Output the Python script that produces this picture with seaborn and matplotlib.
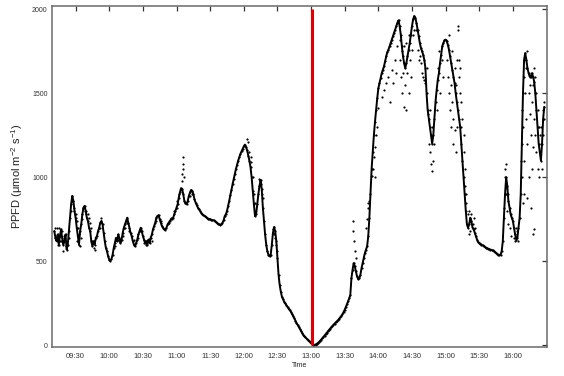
import pandas as pd
import matplotlib
matplotlib.use("Agg")
import matplotlib.pyplot as plt
import matplotlib.dates as mdates
import seaborn as sns

# =========================
# Data (PPFD, one value per minute)
# =========================
trace_start = "09:11"
trace_ppfd = [
    680, 640, 620, 660, 600, 650, 690, 640, 600,                 # 09:11
    620, 660, 570, 600, 680, 760, 840, 890, 860, 800,            # 09:20
    760, 700, 650, 600, 680, 720, 780, 820, 830, 800,            # 09:30
    760, 740, 700, 680, 620, 590, 620, 600, 640, 650,            # 09:40
    680, 700, 730, 740, 720, 670, 620, 580, 560, 530,            # 09:50
    510, 505, 515, 540, 580, 610, 640, 620, 660, 640,            # 10:00
    610, 630, 670, 700, 720, 740, 760, 730, 700, 670,            # 10:10
    650, 620, 600, 590, 610, 630, 660, 680, 700, 680,            # 10:20
    650, 630, 610, 620, 600, 630, 610, 640, 660, 690,            # 10:30
    710, 730, 760, 770, 775, 750, 730, 710, 700, 690,            # 10:40
    688, 700, 720, 730, 740, 750, 755, 760, 780, 800,            # 10:50
    820, 840, 880, 910, 935, 930, 900, 860, 845, 840,            # 11:00
    860, 890, 910, 925, 920, 900, 870, 850, 835, 820,            # 11:10
    810, 800, 790, 780, 775, 770, 765, 760, 755, 752,            # 11:20
    750, 748, 745, 745, 740, 735, 730, 725, 720, 718,            # 11:30
    720, 730, 745, 770, 780, 800, 830, 860, 895, 925,            # 11:40
    960, 990, 1020, 1050, 1075, 1100, 1120, 1140, 1155, 1170,    # 11:50
    1185, 1195, 1180, 1160, 1130, 1100, 1060, 1000, 920, 840,    # 12:00
    770, 780, 840, 900, 950, 985, 930, 820, 740, 660,            # 12:10
    600, 560, 540, 530, 540, 600, 670, 705, 680, 620,            # 12:20
    520, 420, 360, 320, 290, 275, 260, 250, 238, 228,            # 12:30
    218, 210, 200, 188, 175, 162, 148, 134, 122, 110,            # 12:40
    98, 86, 74, 63, 55, 47, 40, 34, 28, 22,                      # 12:50
    15, 8, 4, 3, 5, 9, 14, 20, 27, 34,                           # 13:00
    42, 50, 58, 66, 75, 84, 92, 100, 108, 116,                   # 13:10
    123, 130, 137, 143, 150, 158, 166, 175, 185, 198,            # 13:20
    212, 228, 245, 262, 280, 300, 400, 450, 490, 470,            # 13:30
    440, 410, 395, 400, 420, 460, 490, 520, 550, 570,            # 13:40
    590, 650, 760, 900, 1050, 1150, 1250, 1330, 1400, 1470,      # 13:50
    1530, 1560, 1590, 1620, 1640, 1660, 1690, 1720, 1745, 1760,  # 14:00
    1780, 1800, 1820, 1840, 1860, 1880, 1900, 1920, 1935, 1900,  # 14:10
    1850, 1780, 1720, 1680, 1650, 1680, 1720, 1760, 1800, 1850,  # 14:20
    1900, 1940, 1960, 1950, 1920, 1880, 1840, 1800, 1770, 1750,  # 14:30
    1730, 1700, 1650, 1500, 1400, 1350, 1300, 1250, 1200, 1250,  # 14:40
    1350, 1450, 1520, 1580, 1620, 1680, 1730, 1780, 1800, 1815,  # 14:50
    1820, 1810, 1790, 1760, 1720, 1680, 1640, 1600, 1560, 1500,  # 15:00
    1450, 1400, 1350, 1300, 1200, 1100, 1000, 900, 800, 720,     # 15:10
    700, 720, 760, 740, 700, 690, 670, 650, 630, 615,            # 15:20
    610, 605, 600, 595, 590, 585, 582, 578, 575, 572,            # 15:30
    570, 568, 565, 560, 555, 550, 545, 540, 538, 540,            # 15:40
    560, 620, 760, 900, 1000, 950, 860, 820, 780, 760,           # 15:50
    740, 700, 660, 630, 640, 700, 760, 900, 1200, 1500,          # 16:00
    1700, 1740, 1700, 1650, 1620, 1600, 1600, 1620, 1600, 1570,  # 16:10
    1500, 1400, 1300, 1200, 1150, 1100, 1200, 1350, 1420,        # 16:20
]

# extra readings scattered off the main trace (cloud flicker)
extra_times = [
    "09:12", "09:14", "09:16", "09:18", "09:20", "09:22", "09:24", "09:26", "09:27",
    "09:36", "09:38", "09:39", "09:45", "09:47", "09:52", "09:53",
    "10:05", "10:08", "10:12", "10:14", "10:16", "10:18", "10:22", "10:26", "10:28",
    "10:31", "10:33", "10:36", "10:38", "10:42", "10:46", "10:55", "10:58",
    "11:00", "11:02", "11:12", "11:14",
    "09:13", "09:15", "09:17", "09:19", "09:21",
    "09:29", "09:30", "09:31", "09:31", "09:32", "09:33", "09:34", "09:35",
    "09:41", "09:42", "09:43", "09:44", "09:46",
    "11:05", "11:05", "11:06", "11:06", "11:06", "11:07",
    "12:03", "12:04", "12:05", "12:06", "12:06", "12:08", "12:09", "12:10",
    "12:14", "12:15", "12:16", "12:17",
    "12:26", "12:27", "12:28", "12:29", "12:30",
    "13:37", "13:37", "13:38", "13:39", "13:40",
    "13:49", "13:50", "13:51", "13:51", "13:52",
    "13:54", "13:55", "13:56", "13:57", "13:57", "13:58", "13:59", "14:00",
    "14:03", "14:05", "14:07", "14:09", "14:10", "14:12", "14:13", "14:15", "14:16", "14:17",
    "14:19", "14:19", "14:20", "14:21", "14:21", "14:22", "14:23", "14:23", "14:24", "14:25",
    "14:25", "14:26", "14:27", "14:27", "14:28", "14:29", "14:30", "14:31", "14:32",
    "14:34", "14:35", "14:36", "14:37", "14:38", "14:39", "14:40", "14:41", "14:42",
    "14:43", "14:44", "14:45", "14:46", "14:46", "14:47", "14:48", "14:48", "14:49", "14:50",
    "14:52", "14:53", "14:54", "14:55", "14:57", "14:58",
    "15:01", "15:02", "15:03", "15:03", "15:04", "15:05", "15:05", "15:06", "15:06", "15:07",
    "15:07", "15:08", "15:08", "15:09", "15:09", "15:10", "15:10",
    "15:11", "15:11", "15:12", "15:12", "15:13", "15:13", "15:14", "15:14", "15:15", "15:16",
    "15:16", "15:17", "15:17", "15:18", "15:18",
    "15:20", "15:21", "15:22", "15:23", "15:24", "15:25", "15:26", "15:21", "15:22",
    "15:52", "15:53", "15:53", "15:54", "15:54", "15:55", "15:56", "15:56", "15:57", "15:58",
    "16:01", "16:02", "16:03", "16:04", "16:05",
    "16:07", "16:08", "16:08", "16:09", "16:09", "16:10", "16:10", "16:11", "16:12", "16:12",
    "16:13", "16:13", "16:14", "16:14", "16:15", "16:15", "16:16", "16:16", "16:17", "16:17",
    "16:18", "16:18", "16:19", "16:19", "16:20", "16:20", "16:21", "16:21", "16:22", "16:22",
    "16:23", "16:23", "16:24", "16:25", "16:25", "16:26", "16:27", "16:27", "16:28", "16:28",
    "16:18", "16:19", "16:10", "16:13",
]
extra_ppfd = [
    700, 600, 620, 680, 650, 600, 640, 800, 860,
    750, 800, 780, 620, 570, 700, 760,
    590, 630, 650, 700, 730, 680, 630, 640, 680,
    610, 600, 640, 620, 740, 740, 760, 800,
    860, 900, 890, 900,
    700, 700, 620, 560, 590,
    820, 780, 740, 620, 700, 660, 590, 640,
    780, 760, 730, 700, 580,
    980, 1020, 1050, 1080, 1120, 1000,
    1230, 1210, 1150, 1120, 1090, 1000, 900, 850,
    990, 960, 900, 880,
    690, 660, 640, 600, 560,
    740, 680, 620, 560, 520,
    700, 750, 820, 850, 860,
    1010, 1050, 1120, 1180, 1000, 1250, 1300, 1410,
    1480, 1520, 1560, 1600, 1450, 1640, 1560, 1700, 1620, 1780,
    1820, 1700, 1600, 1750, 1500, 1620, 1420, 1780, 1550, 1400,
    1800, 1620, 1500, 1850, 1700, 1600, 1760, 1850, 1880,
    1880, 1760, 1700, 1720, 1680, 1620, 1600, 1580, 1560,
    1650, 1380, 1200, 1150, 1400, 1080, 1040, 1300, 1100, 1200,
    1400, 1650, 1750, 1500, 1700, 1600,
    1700, 1600, 1500, 1850, 1400, 1550, 1300, 1450, 1750, 1350,
    1200, 1650, 1280, 1150, 1550, 1700, 1300,
    1900, 1880, 1600, 1700, 1500, 1650, 1450, 1300, 1350, 1250,
    1150, 1050, 950, 900, 850,
    780, 800, 740, 780, 720, 760, 700, 660, 680,
    820, 1000, 1050, 1080, 900, 800, 720, 900, 700, 650,
    640, 620, 700, 680, 620,
    1100, 1400, 1000, 1300, 850, 1600, 1100, 1500, 1350, 1650,
    1200, 1750, 1500, 1000, 1380, 1550, 1250, 820, 1450, 1050,
    1180, 1550, 1350, 1650, 1250, 1600, 1150, 1500, 1400, 1050,
    1300, 1000, 1250, 1200, 1300, 1050, 1250, 1400, 1350, 1450,
    660, 690, 900, 880,
]

event_time = "13:01"
event_top = 2000

x_ticks = ["09:30", "10:00", "10:30", "11:00", "11:30", "12:00", "12:30",
           "13:00", "13:30", "14:00", "14:30", "15:00", "15:30", "16:00"]
y_ticks = [0, 500, 1000, 1500, 2000]

# =========================
# Build frames
# =========================
day = "2000-01-01 "
trace = pd.DataFrame({
    "time": pd.date_range(day + trace_start, periods=len(trace_ppfd), freq="min"),
    "ppfd": trace_ppfd,
})
extra = pd.DataFrame({
    "time": pd.to_datetime([day + t for t in extra_times]),
    "ppfd": extra_ppfd,
})

# =========================
# Plot
# =========================
sns.set_style("white")
plt.rcParams["font.family"] = ["Liberation Sans", "DejaVu Sans"]
plt.rcParams["mathtext.fontset"] = "custom"
plt.rcParams["mathtext.rm"] = "Liberation Sans"
plt.rcParams["mathtext.it"] = "Liberation Sans"

fig = plt.figure(figsize=(5.64, 3.76), dpi=100)
ax = fig.add_axes([0.092, 0.077, 0.878, 0.907])

# dense logger trace: thin line so the 1-min readings read as a continuous band
sns.lineplot(data=trace, x="time", y="ppfd", ax=ax, color="black",
             linewidth=1.4, legend=False)
sns.scatterplot(data=trace, x="time", y="ppfd", ax=ax,
                color="black", s=2.5, linewidth=0, legend=False)
sns.scatterplot(data=extra, x="time", y="ppfd", ax=ax,
                color="black", s=2.5, linewidth=0, legend=False)

ev = pd.Timestamp(day + event_time)
ax.vlines(ev, 0, event_top, color="#e00000", linewidth=2.2, zorder=5)

ax.set_xlim(pd.Timestamp(day + "09:08:50"), pd.Timestamp(day + "16:30:30"))
ax.set_ylim(-10, 2020)
ax.set_yticks(y_ticks)
ax.set_xticks(pd.to_datetime([day + t for t in x_ticks]))
ax.xaxis.set_major_formatter(mdates.DateFormatter("%H:%M"))

for side in ["left", "right", "top", "bottom"]:
    ax.spines[side].set_visible(True)
    ax.spines[side].set_color("#6a6a6a")
    ax.spines[side].set_linewidth(1.1)

ax.tick_params(axis="both", direction="in", length=3.5, width=0.9,
               color="#333333", top=True, right=True,
               labelcolor="#333333")
ax.tick_params(axis="x", labelsize=5.5, pad=4)
ax.tick_params(axis="y", labelsize=5, pad=3)

ax.set_xlabel("Time", fontsize=5, color="#222222", labelpad=2)
ax.set_ylabel("PPFD (μmol m$^{-2}$ s$^{-1}$)", fontsize=8, color="#222222", labelpad=5)

fig.savefig("out.png", dpi=100)
